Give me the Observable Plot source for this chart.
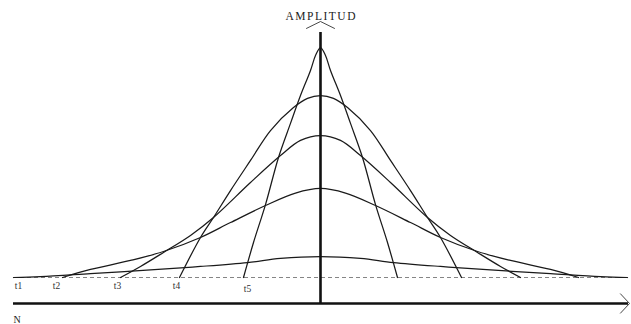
<!DOCTYPE html>
<html>
<head>
<meta charset="utf-8">
<script src="https://cdn.jsdelivr.net/npm/d3@7"></script>
<script src="https://cdn.jsdelivr.net/npm/@observablehq/plot@0.6"></script>
<style>
  html, body { margin: 0; padding: 0; background: #fff; }
  #chart svg { display: block; }
</style>
</head>
<body>
<div id="chart"></div>
<script>
// Pulse names, from the narrowest (latest label) to the widest
const pulses = ["t5", "t4", "t3", "t2", "t1"];

// Half-profiles of each pulse: distance from the centre along N, and amplitude
const offsetsT5 = [0, 5, 10, 20, 30, 42, 55, 67, 77];
const ampT5     = [100, 96.5, 90.0, 79.1, 67.0, 52.2, 31.7, 15.2, 0];

const offsetsT4 = [0, 13, 27, 50, 70, 90, 107, 120, 141];
const ampT4     = [79.1, 77.9, 73.9, 63.9, 50.9, 37.8, 26.1, 17.4, 0];

const offsetsT3 = [0, 20, 40, 70, 107, 130, 157, 180, 200];
const ampT3     = [61.7, 59.6, 53.0, 41.3, 26.1, 18.3, 10.9, 4.8, 0];

const offsetsT2 = [0, 25, 55, 90, 120, 157, 190, 230, 258];
const ampT2     = [38.7, 36.7, 31.3, 23.9, 17.4, 11.3, 7.4, 3.5, 0];

const offsetsT1 = [0, 40, 73, 120, 170, 230, 280, 307];
const ampT1     = [9.1, 8.3, 6.5, 4.8, 3.3, 1.7, 0.4, 0];

// Time labels and where they sit along N
const timeLabels = ["t1", "t2", "t3", "t4", "t5"];
const timeLabelN = [-302, -264, -203, -144, -73];

// Axis extents
const nStart = -307, nEnd = 308;
const ampAxisLevel = -11.3, ampAxisTop = 106.5;

const profiles = {
  t5: [offsetsT5, ampT5],
  t4: [offsetsT4, ampT4],
  t3: [offsetsT3, ampT3],
  t2: [offsetsT2, ampT2],
  t1: [offsetsT1, ampT1]
};

// Each pulse is symmetric about N = 0: mirror the half-profile
const curves = pulses.flatMap(name => {
  const [d, a] = profiles[name];
  const left = d.map((v, i) => ({pulse: name, n: -v, amp: a[i]})).reverse();
  const right = d.slice(1).map((v, i) => ({pulse: name, n: v, amp: a[i + 1]}));
  return [...left, ...right];
});

// Open arrowheads at the ends of both axes
const headUp = [
  {n: -14, amp: ampAxisTop + 1.8},
  {n: 0, amp: ampAxisTop + 4.8},
  {n: 14, amp: ampAxisTop + 1.8}
];
const headRight = [
  {n: nEnd - 8, amp: ampAxisLevel + 4.2},
  {n: nEnd + 1, amp: ampAxisLevel},
  {n: nEnd - 8, amp: ampAxisLevel - 4.2}
];

const labels = timeLabels.map((t, i) => ({t, n: timeLabelN[i]}));
const serif = "Liberation Serif, DejaVu Serif, serif";
const axisTitle = "AMPLITUD";

const chart = Plot.plot({
  width: 631,
  height: 324,
  marginTop: 0, marginBottom: 0, marginLeft: 0, marginRight: 0,
  x: {domain: [-320, 311], axis: null},
  y: {domain: [-47 / 2.3, 277 / 2.3], axis: null},
  marks: [
    Plot.ruleY([0], {x1: nStart, x2: nEnd, stroke: "#666", strokeWidth: 0.8, strokeDasharray: "4,3"}),
    Plot.line(curves, {x: "n", y: "amp", z: "pulse", curve: "catmull-rom", stroke: "#1a1a1a", strokeWidth: 1.25}),
    Plot.ruleX([0], {y1: ampAxisLevel, y2: ampAxisTop, stroke: "#111", strokeWidth: 2.6}),
    Plot.ruleY([ampAxisLevel], {x1: nStart, x2: nEnd, stroke: "#111", strokeWidth: 2.6}),
    Plot.line(headUp, {x: "n", y: "amp", stroke: "#333", strokeWidth: 0.9}),
    Plot.line(headRight, {x: "n", y: "amp", stroke: "#333", strokeWidth: 0.9}),
    Plot.text([axisTitle], {
      x: 0, frameAnchor: "top", dy: 16, lineAnchor: "middle",
      fontFamily: serif, fontSize: 11.5, fill: "#222"
    }),
    Plot.text(["N"], {
      frameAnchor: "bottom-left", dx: 13, dy: -2, textAnchor: "start", lineAnchor: "bottom",
      fontFamily: serif, fontSize: 10, fill: "#222"
    }),
    Plot.text(labels.filter(d => d.t !== "t5"), {
      x: "n", y: 0, text: "t", dy: 8.5, lineAnchor: "middle",
      fontFamily: serif, fontSize: 9.5, fill: "#333"
    }),
    Plot.text(labels.filter(d => d.t === "t5"), {
      x: "n", y: 0, text: "t", dy: 11, lineAnchor: "middle",
      fontFamily: serif, fontSize: 9.5, fill: "#333"
    })
  ]
});

// Spread the axis title letters over a wider span
d3.select(chart).selectAll("text")
  .filter(function () { return this.textContent === axisTitle; })
  .attr("textLength", 70)
  .attr("lengthAdjust", "spacing");

document.getElementById("chart").appendChild(chart);
</script>
</body>
</html>
